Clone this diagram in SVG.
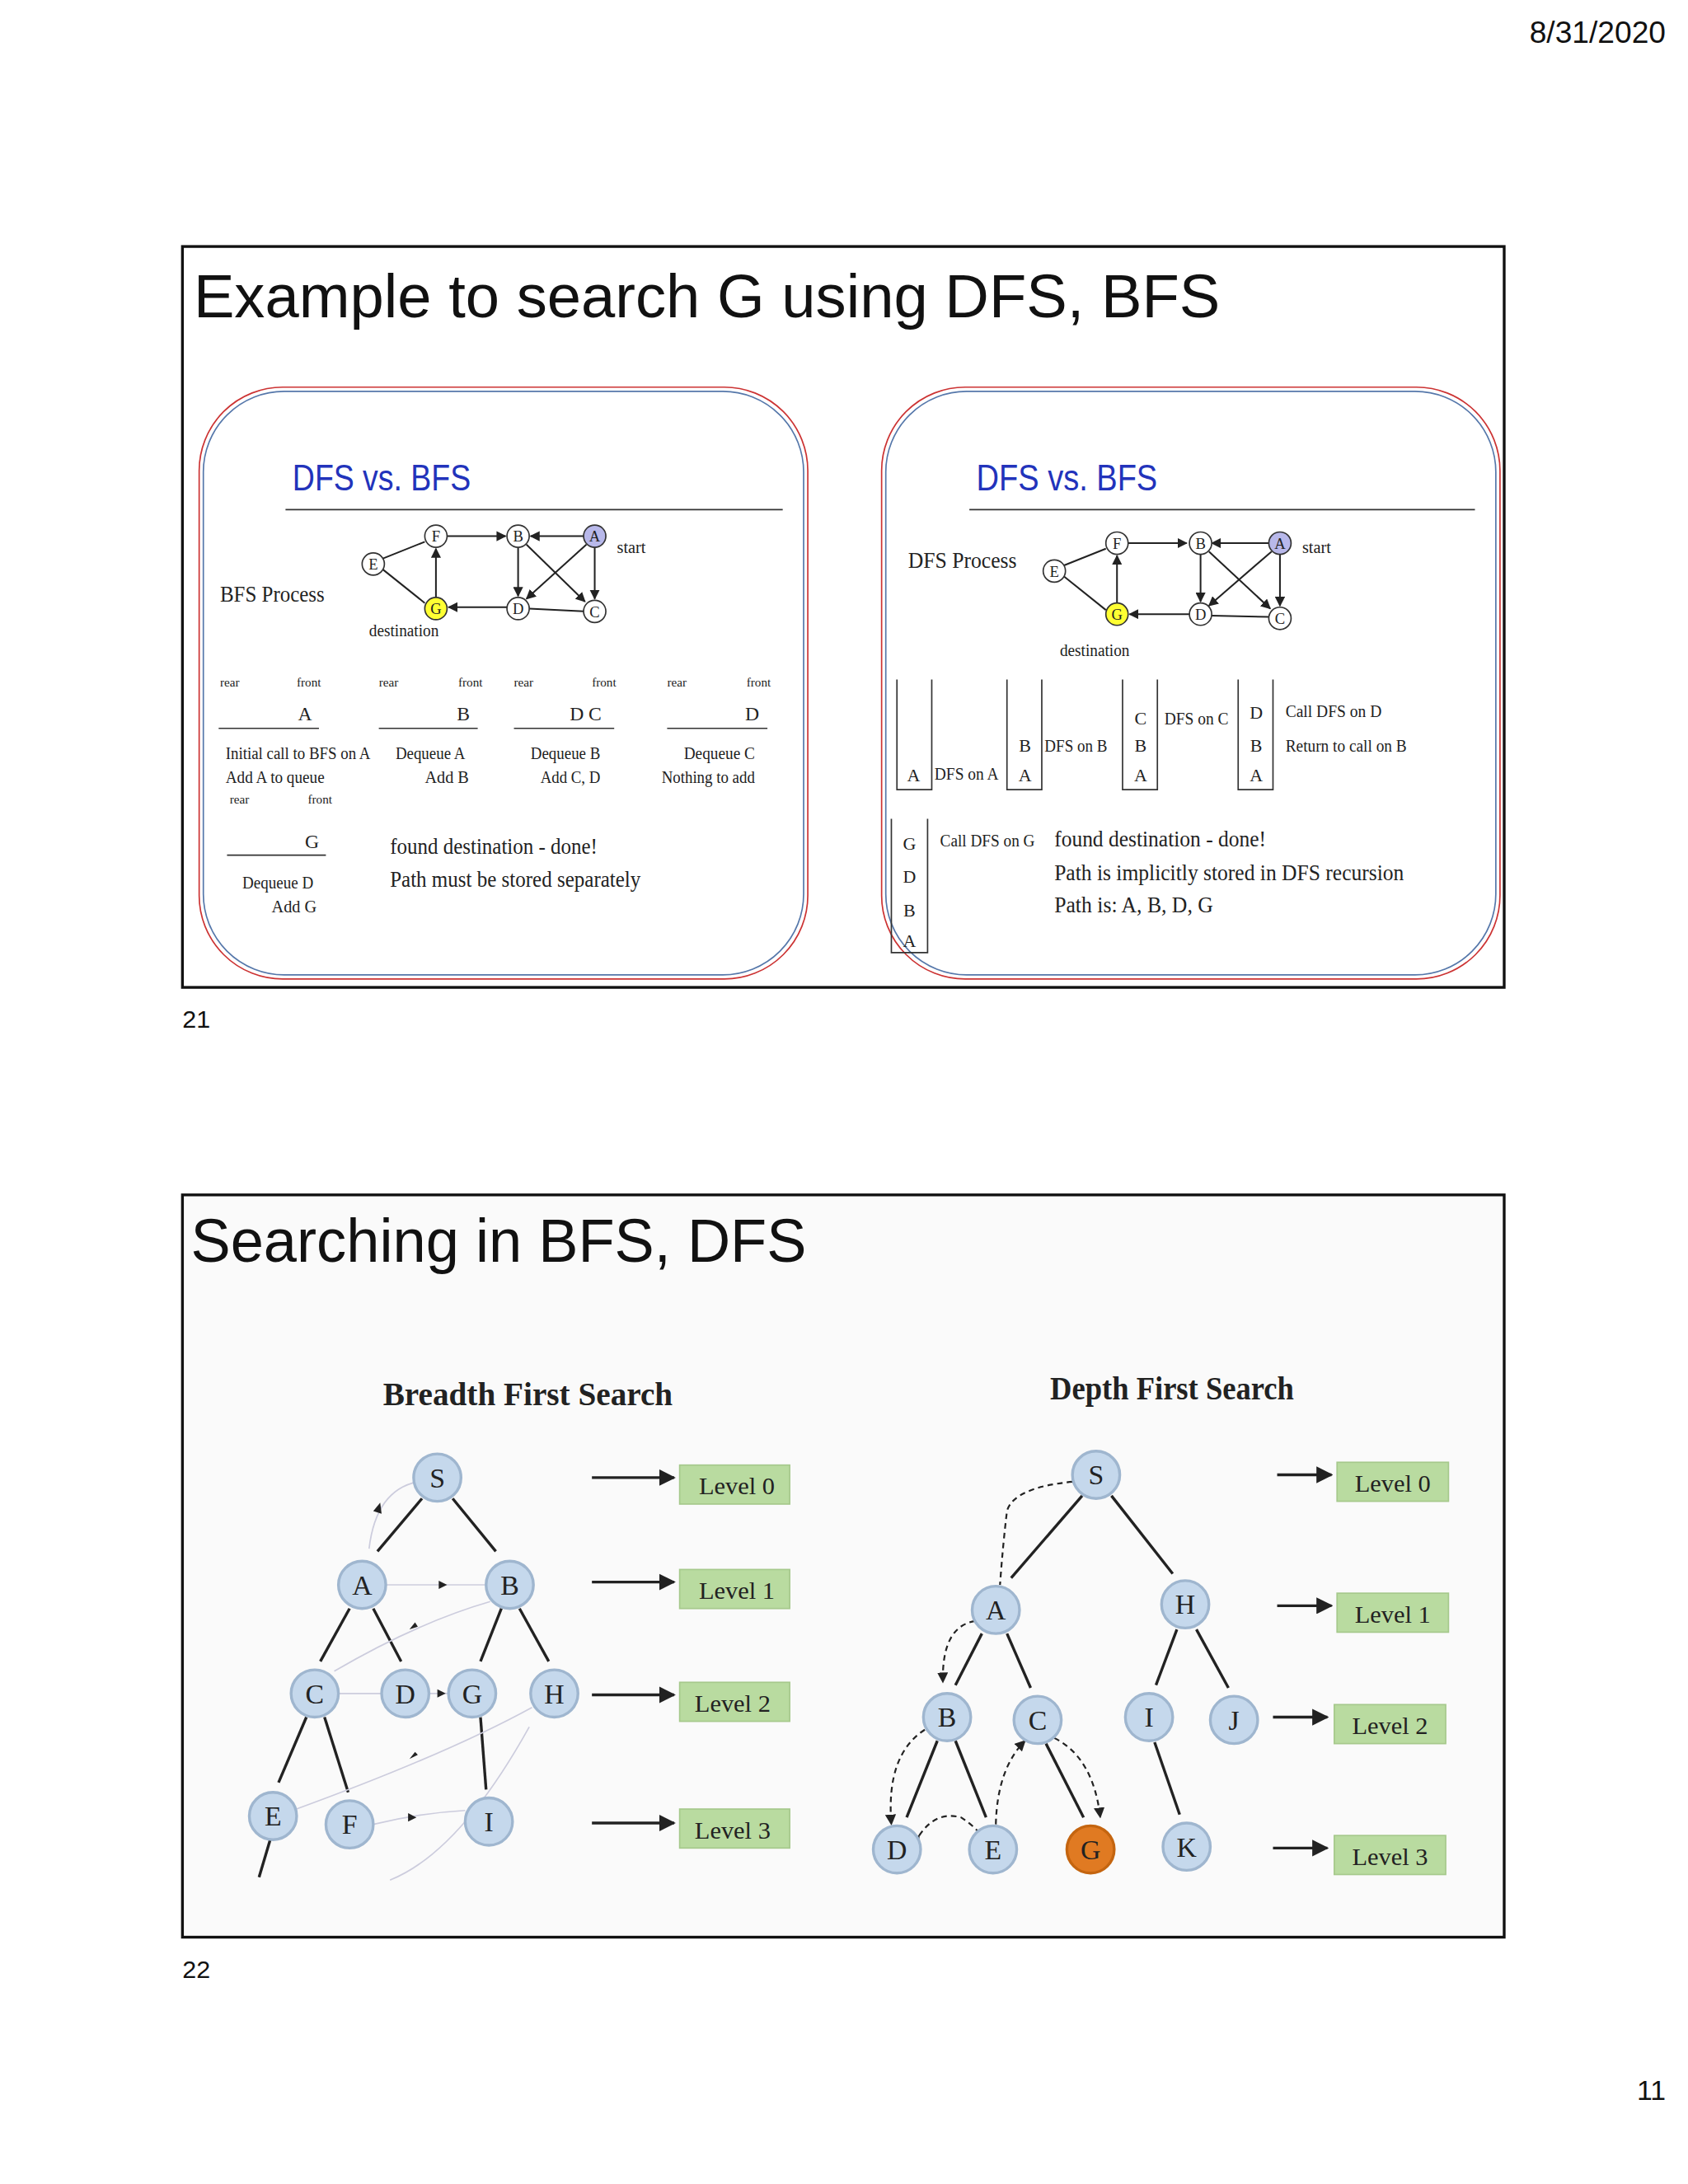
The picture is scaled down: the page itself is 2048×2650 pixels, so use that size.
<svg xmlns="http://www.w3.org/2000/svg" width="2048" height="2650" viewBox="0 0 2048 2650">
<style>
.t{font-family:"Liberation Serif",serif;fill:#222}
.s{font-family:"Liberation Sans",sans-serif;fill:#111}
.g{stroke:#222;stroke-width:1.2;fill:none}
.n{fill:#fff;stroke:#333;stroke-width:1}
.tn{fill:#c5d8ec;stroke:#9fb6cf;stroke-width:2}
.lv{fill:#b9dba0;stroke:#a6c98c}
.e{stroke:#222;stroke-width:2;fill:none}
.d{stroke:#222;stroke-width:1.3;fill:none;stroke-dasharray:4 3}
.f{stroke:#ccd;stroke-width:1;fill:none}
</style>
<defs>
<marker id="a" viewBox="0 0 10 10" refX="9" refY="5" markerWidth="6" markerHeight="6" orient="auto"><path d="M0 0L10 5L0 10z" fill="#222"/></marker>
</defs>
<rect width="2048" height="2650" fill="#fff"/>
<g transform="scale(1.6898)">
<text class="s" x="1196" y="31" font-size="22" text-anchor="end">8/31/2020</text>
<g id="slide1">
<rect x="131" y="177" width="949" height="532" fill="#fff" stroke="#111" stroke-width="2"/>
<text class="s" x="139" y="228" font-size="44" textLength="737" lengthAdjust="spacingAndGlyphs">Example to search G using  DFS, BFS</text>
<text class="s" x="131" y="738" font-size="18">21</text>
</g>
<g id="left-panel">
<rect x="143" y="278" width="437" height="425" rx="60" fill="#fff" stroke="#c33" stroke-width="1"/>
<rect x="146" y="281" width="431" height="419" rx="58" fill="none" stroke="#57a" stroke-width="1"/>
<text class="s" x="210" y="352" font-size="26" style="fill:#2233bb" textLength="128" lengthAdjust="spacingAndGlyphs">DFS vs. BFS</text>
<line x1="205" y1="366" x2="562" y2="366" stroke="#333"/>
<text class="t" x="158" y="432" font-size="16" textLength="75" lengthAdjust="spacingAndGlyphs">BFS Process</text>
<g class="g">
<line x1="275" y1="401" x2="305" y2="389"/><line x1="275" y1="409" x2="305" y2="433"/>
<line x1="321" y1="385" x2="363" y2="385" marker-end="url(#a)"/><line x1="419" y1="385" x2="381" y2="385" marker-end="url(#a)"/>
<line x1="313" y1="429" x2="313" y2="394" marker-end="url(#a)"/><line x1="364" y1="436" x2="322" y2="436" marker-end="url(#a)"/>
<line x1="372" y1="393" x2="372" y2="428" marker-end="url(#a)"/><line x1="378" y1="391" x2="420" y2="432" marker-end="url(#a)"/>
<line x1="421" y1="391" x2="378" y2="430" marker-end="url(#a)"/><line x1="427" y1="393" x2="427" y2="430" marker-end="url(#a)"/>
<line x1="419" y1="439" x2="380" y2="437"/>
</g>
<circle class="n" cx="313" cy="385" r="8"/><circle class="n" cx="372" cy="385" r="8"/><circle class="n" cx="427" cy="385" r="8" style="fill:#b8b8ea"/>
<circle class="n" cx="268" cy="405" r="8"/><circle class="n" cx="313" cy="437" r="8" style="fill:#ffff33"/><circle class="n" cx="372" cy="437" r="8"/><circle class="n" cx="427" cy="439" r="8"/>
<g class="t" font-size="11" text-anchor="middle"><text x="313" y="389">F</text><text x="372" y="389">B</text><text x="427" y="389">A</text><text x="268" y="409">E</text><text x="313" y="441">G</text><text x="372" y="441">D</text><text x="427" y="443">C</text></g>
<text class="t" x="443" y="397" font-size="12">start</text>
<text class="t" x="265" y="457" font-size="12" textLength="50" lengthAdjust="spacingAndGlyphs">destination</text>
<g class="t" font-size="9"><text x="158" y="493">rear</text><text x="213" y="493">front</text><text x="272" y="493">rear</text><text x="329" y="493">front</text><text x="369" y="493">rear</text><text x="425" y="493">front</text><text x="479" y="493">rear</text><text x="536" y="493">front</text><text x="165" y="577">rear</text><text x="221" y="577">front</text></g>
<g stroke="#333"><line x1="157" y1="523" x2="229" y2="523"/><line x1="272" y1="523" x2="343" y2="523"/><line x1="369" y1="523" x2="441" y2="523"/><line x1="479" y1="523" x2="551" y2="523"/><line x1="163" y1="614" x2="234" y2="614"/></g>
<g class="t" font-size="14"><text x="214" y="517">A</text><text x="328" y="517">B</text><text x="409" y="517">D C</text><text x="535" y="517">D</text><text x="219" y="609">G</text></g>
<g class="t" font-size="12" lengthAdjust="spacingAndGlyphs">
<text x="162" y="545" textLength="104" lengthAdjust="spacingAndGlyphs">Initial call to BFS on A</text><text x="162" y="562" textLength="71" lengthAdjust="spacingAndGlyphs">Add A to queue</text>
<text x="284" y="545" textLength="50" lengthAdjust="spacingAndGlyphs">Dequeue A</text><text x="305" y="562">Add B</text>
<text x="381" y="545" textLength="50" lengthAdjust="spacingAndGlyphs">Dequeue B</text><text x="388" y="562" textLength="43" lengthAdjust="spacingAndGlyphs">Add C, D</text>
<text x="491" y="545" textLength="51" lengthAdjust="spacingAndGlyphs">Dequeue C</text><text x="475" y="562" textLength="67" lengthAdjust="spacingAndGlyphs">Nothing to add</text>
<text x="174" y="638" textLength="51" lengthAdjust="spacingAndGlyphs">Dequeue D</text><text x="195" y="655">Add G</text>
</g>
<text class="t" x="280" y="613" font-size="16" textLength="149" lengthAdjust="spacingAndGlyphs">found destination - done!</text>
<text class="t" x="280" y="637" font-size="16" textLength="180" lengthAdjust="spacingAndGlyphs">Path must be stored separately</text>
</g>
<g id="right-panel">
<rect x="633" y="278" width="444" height="425" rx="60" fill="#fff" stroke="#c33" stroke-width="1"/>
<rect x="636" y="281" width="438" height="419" rx="58" fill="none" stroke="#57a" stroke-width="1"/>
<text class="s" x="701" y="352" font-size="26" style="fill:#2233bb" textLength="130" lengthAdjust="spacingAndGlyphs">DFS vs. BFS</text>
<line x1="696" y1="366" x2="1059" y2="366" stroke="#333"/>
<text class="t" x="652" y="408" font-size="16" textLength="78" lengthAdjust="spacingAndGlyphs">DFS Process</text>
<g class="g">
<line x1="764" y1="406" x2="794" y2="394"/><line x1="764" y1="414" x2="794" y2="438"/>
<line x1="810" y1="390" x2="852" y2="390" marker-end="url(#a)"/><line x1="911" y1="390" x2="870" y2="390" marker-end="url(#a)"/>
<line x1="802" y1="433" x2="802" y2="399" marker-end="url(#a)"/><line x1="854" y1="441" x2="811" y2="441" marker-end="url(#a)"/>
<line x1="862" y1="398" x2="862" y2="432" marker-end="url(#a)"/><line x1="868" y1="396" x2="912" y2="437" marker-end="url(#a)"/>
<line x1="913" y1="396" x2="868" y2="435" marker-end="url(#a)"/><line x1="919" y1="398" x2="919" y2="435" marker-end="url(#a)"/>
<line x1="911" y1="443" x2="870" y2="442"/>
</g>
<circle class="n" cx="802" cy="390" r="8"/><circle class="n" cx="862" cy="390" r="8"/><circle class="n" cx="919" cy="390" r="8" style="fill:#b8b8ea"/>
<circle class="n" cx="757" cy="410" r="8"/><circle class="n" cx="802" cy="441" r="8" style="fill:#ffff33"/><circle class="n" cx="862" cy="441" r="8"/><circle class="n" cx="919" cy="444" r="8"/>
<g class="t" font-size="11" text-anchor="middle"><text x="802" y="394">F</text><text x="862" y="394">B</text><text x="919" y="394">A</text><text x="757" y="414">E</text><text x="802" y="445">G</text><text x="862" y="445">D</text><text x="919" y="448">C</text></g>
<text class="t" x="935" y="397" font-size="12">start</text>
<text class="t" x="761" y="471" font-size="12" textLength="50" lengthAdjust="spacingAndGlyphs">destination</text>
<g stroke="#333" fill="none">
<path d="M644 488V567H669V488"/><path d="M723 488V567H748V488"/><path d="M806 488V567H831V488"/><path d="M889 488V567H914V488"/><path d="M640 588V684H666V588"/>
</g>
<g class="t" font-size="13" text-anchor="middle">
<text x="656" y="561">A</text><text x="736" y="540">B</text><text x="736" y="561">A</text>
<text x="819" y="520">C</text><text x="819" y="540">B</text><text x="819" y="561">A</text>
<text x="902" y="516">D</text><text x="902" y="540">B</text><text x="902" y="561">A</text>
<text x="653" y="610">G</text><text x="653" y="634">D</text><text x="653" y="658">B</text><text x="653" y="680">A</text>
</g>
<g class="t" font-size="12"><text x="671" y="560" textLength="46" lengthAdjust="spacingAndGlyphs">DFS on A</text><text x="750" y="540" textLength="45" lengthAdjust="spacingAndGlyphs">DFS on B</text><text x="836" y="520" textLength="46" lengthAdjust="spacingAndGlyphs">DFS on C</text><text x="923" y="515" textLength="69" lengthAdjust="spacingAndGlyphs">Call DFS on D</text><text x="923" y="540" textLength="87" lengthAdjust="spacingAndGlyphs">Return to call on B</text><text x="675" y="608" textLength="68" lengthAdjust="spacingAndGlyphs">Call DFS on G</text></g>
<g class="t" font-size="16"><text x="757" y="608" textLength="152" lengthAdjust="spacingAndGlyphs">found destination - done!</text><text x="757" y="632" textLength="251" lengthAdjust="spacingAndGlyphs">Path is implicitly stored in DFS recursion</text><text x="757" y="655" textLength="114" lengthAdjust="spacingAndGlyphs">Path is: A, B, D, G</text></g>
</g>
<g id="slide2">
<rect x="131" y="858" width="949" height="533" fill="#fafafa" stroke="#111" stroke-width="2"/>
<text class="s" x="137" y="906" font-size="44" textLength="442" lengthAdjust="spacingAndGlyphs">Searching in  BFS, DFS</text>
<text class="s" x="131" y="1420" font-size="18">22</text>
<text class="s" x="1196" y="1508" font-size="20" text-anchor="end">11</text>
<text class="t" x="275" y="1009" font-size="24" font-weight="bold" textLength="208" lengthAdjust="spacingAndGlyphs">Breadth First Search</text>
<text class="t" x="754" y="1005" font-size="24" font-weight="bold" textLength="175" lengthAdjust="spacingAndGlyphs">Depth First Search</text>
</g>
<g id="connectors">
<g class="e">
<line x1="303" y1="1076" x2="271" y2="1114"/><line x1="325" y1="1076" x2="356" y2="1114"/>
<line x1="251" y1="1155" x2="230" y2="1193"/><line x1="268" y1="1155" x2="288" y2="1193"/>
<line x1="360" y1="1155" x2="345" y2="1193"/><line x1="373" y1="1155" x2="394" y2="1193"/>
<line x1="220" y1="1233" x2="200" y2="1280"/><line x1="233" y1="1233" x2="250" y2="1287"/>
<line x1="345" y1="1233" x2="349" y2="1285"/><line x1="194" y1="1321" x2="186" y2="1348"/>
<line x1="777" y1="1074" x2="726" y2="1133"/><line x1="798" y1="1074" x2="842" y2="1130"/>
<line x1="705" y1="1173" x2="686" y2="1210"/><line x1="723" y1="1173" x2="740" y2="1212"/>
<line x1="845" y1="1170" x2="830" y2="1210"/><line x1="859" y1="1170" x2="882" y2="1212"/>
<line x1="673" y1="1250" x2="651" y2="1305"/><line x1="686" y1="1250" x2="708" y2="1305"/>
<line x1="751" y1="1252" x2="778" y2="1305"/><line x1="829" y1="1251" x2="847" y2="1303"/>
</g>
<g class="f">
<path d="M300 1064Q270 1070 265 1112"/><path d="M277 1138H348"/><path d="M352 1150Q300 1165 240 1200"/>
<path d="M243 1216H275"/><path d="M307 1216H322"/><path d="M382 1226Q320 1260 210 1300"/><path d="M268 1310Q300 1302 334 1300"/><path d="M280 1350Q330 1330 380 1240"/>
</g>
<g fill="#222"><path d="M268 1085l5 -6l1 8z"/><path d="M315 1135l6 3l-6 3z"/><path d="M300 1168l-6 2l4 -5z"/><path d="M314 1213l6 3l-6 3z"/><path d="M300 1260l-6 3l4 -5z"/><path d="M293 1302l6 3l-6 3z"/></g>
<g class="d">
<path d="M770 1064Q728 1068 723 1085Q720 1110 718 1138" marker-start="url(#a)"/>
<path d="M700 1164Q676 1168 677 1208" marker-end="url(#a)"/>
<path d="M664 1242Q636 1260 640 1310" marker-end="url(#a)"/>
<path d="M660 1318Q672 1300 690 1305Q698 1310 705 1318" marker-start="url(#a)"/>
<path d="M715 1310Q716 1270 736 1250" marker-end="url(#a)"/>
<path d="M757 1248Q785 1262 790 1305" marker-end="url(#a)"/>
</g>
<g class="e">
<line x1="425" y1="1061" x2="484" y2="1061" marker-end="url(#a)"/><line x1="425" y1="1136" x2="484" y2="1136" marker-end="url(#a)"/>
<line x1="425" y1="1217" x2="484" y2="1217" marker-end="url(#a)"/><line x1="425" y1="1309" x2="484" y2="1309" marker-end="url(#a)"/>
<line x1="917" y1="1059" x2="956" y2="1059" marker-end="url(#a)"/><line x1="917" y1="1153" x2="956" y2="1153" marker-end="url(#a)"/>
<line x1="914" y1="1233" x2="953" y2="1233" marker-end="url(#a)"/><line x1="914" y1="1327" x2="953" y2="1327" marker-end="url(#a)"/>
</g>
</g>
<g id="bfs-nodes" class="t" font-size="20" text-anchor="middle">
<g id="bS"><circle class="tn" cx="314" cy="1061" r="17"/><text x="314" y="1068">S</text></g>
<g id="bA"><circle class="tn" cx="260" cy="1138" r="17"/><text x="260" y="1145">A</text></g>
<g id="bB"><circle class="tn" cx="366" cy="1138" r="17"/><text x="366" y="1145">B</text></g>
<g id="bC"><circle class="tn" cx="226" cy="1216" r="17"/><text x="226" y="1223">C</text></g>
<g id="bD"><circle class="tn" cx="291" cy="1216" r="17"/><text x="291" y="1223">D</text></g>
<g id="bG"><circle class="tn" cx="339" cy="1216" r="17"/><text x="339" y="1223">G</text></g>
<g id="bH"><circle class="tn" cx="398" cy="1216" r="17"/><text x="398" y="1223">H</text></g>
<g id="bE"><circle class="tn" cx="196" cy="1304" r="17"/><text x="196" y="1311">E</text></g>
<g id="bF"><circle class="tn" cx="251" cy="1310" r="17"/><text x="251" y="1317">F</text></g>
<g id="bI"><circle class="tn" cx="351" cy="1308" r="17"/><text x="351" y="1315">I</text></g>
</g>
<g id="dfs-nodes" class="t" font-size="20" text-anchor="middle">
<g id="dS"><circle class="tn" cx="787" cy="1059" r="17"/><text x="787" y="1066">S</text></g>
<g id="dA"><circle class="tn" cx="715" cy="1156" r="17"/><text x="715" y="1163">A</text></g>
<g id="dH"><circle class="tn" cx="851" cy="1152" r="17"/><text x="851" y="1159">H</text></g>
<g id="dB"><circle class="tn" cx="680" cy="1233" r="17"/><text x="680" y="1240">B</text></g>
<g id="dC"><circle class="tn" cx="745" cy="1235" r="17"/><text x="745" y="1242">C</text></g>
<g id="dI"><circle class="tn" cx="825" cy="1233" r="17"/><text x="825" y="1240">I</text></g>
<g id="dJ"><circle class="tn" cx="886" cy="1235" r="17"/><text x="886" y="1242">J</text></g>
<g id="dD"><circle class="tn" cx="644" cy="1328" r="17"/><text x="644" y="1335">D</text></g>
<g id="dE"><circle class="tn" cx="713" cy="1328" r="17"/><text x="713" y="1335">E</text></g>
<g id="dG"><circle cx="783" cy="1328" r="17" fill="#e07a22" stroke="#c46510" stroke-width="2"/><text x="783" y="1335">G</text></g>
<g id="dK"><circle class="tn" cx="852" cy="1326" r="17"/><text x="852" y="1333">K</text></g>
</g>
<g id="levels" class="t" font-size="18" text-anchor="middle">
<g id="l1"><rect class="lv" x="488" y="1052" width="79" height="28"/><text x="529" y="1073">Level 0</text></g>
<g id="l2"><rect class="lv" x="488" y="1127" width="79" height="28"/><text x="529" y="1148">Level 1</text></g>
<g id="l3"><rect class="lv" x="488" y="1208" width="79" height="28"/><text x="526" y="1229">Level 2</text></g>
<g id="l4"><rect class="lv" x="488" y="1299" width="79" height="28"/><text x="526" y="1320">Level 3</text></g>
<g id="l5"><rect class="lv" x="960" y="1050" width="80" height="28"/><text x="1000" y="1071">Level 0</text></g>
<g id="l6"><rect class="lv" x="960" y="1144" width="80" height="28"/><text x="1000" y="1165">Level 1</text></g>
<g id="l7"><rect class="lv" x="958" y="1224" width="80" height="28"/><text x="998" y="1245">Level 2</text></g>
<g id="l8"><rect class="lv" x="958" y="1318" width="80" height="28"/><text x="998" y="1339">Level 3</text></g>
</g>
</g>
</svg>
